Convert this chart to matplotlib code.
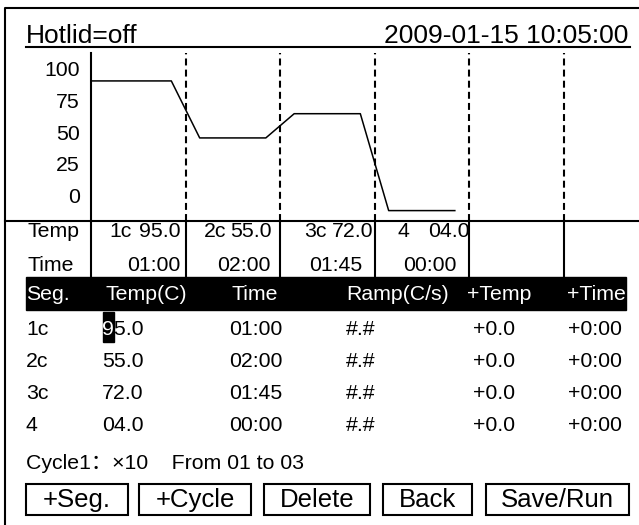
import matplotlib
matplotlib.use('Agg')
import matplotlib.pyplot as plt
from matplotlib.patches import Rectangle
from matplotlib.transforms import blended_transform_factory

plt.rcParams['font.family'] = ['Liberation Sans', 'Noto Sans CJK SC', 'DejaVu Sans']
plt.rcParams['lines.scale_dashes'] = False

# --- screen content ---
hotlid = 'Hotlid=off'
stamp = '2009-01-15 10:05:00'
seg_names = ['1c', '2c', '3c', '4']
seg_temps = [95.0, 55.0, 72.0, 4.0]
seg_times = ['01:00', '02:00', '01:45', '00:00']
seg_ramps = ['#.#', '#.#', '#.#', '#.#']
seg_dtemp = ['+0.0', '+0.0', '+0.0', '+0.0']
seg_dtime = ['+0:00', '+0:00', '+0:00', '+0:00']
y_ticks = [0, 25, 50, 75, 100]
headers = ['Seg.', 'Temp(C)', 'Time', 'Ramp(C/s)', '+Temp', '+Time']
cycle_text = 'Cycle1：×10    From 01 to 03'
buttons = ['+Seg.', '+Cycle', 'Delete', 'Back', 'Save/Run']
n_slots = 5

# --- layout (pixels) ---
W, H = 639, 525
header_x = [26, 105, 232, 346, 467, 567]
col_x = [26, 102, 229, 346, 473, 568]
row_base = [335, 367, 399, 431]
name_left = [109, 204, 304, 397]
temp_right = [181, 272, 373, 470]
time_right = [180, 270, 362, 457]
btn_x = [(26, 128), (139, 251), (264, 370), (383, 472), (486, 629)]
ramp = 0.15
fs = 15.3

fig = plt.figure(figsize=(W / 100, H / 100), dpi=100)
cv = fig.add_axes([0, 0, 1, 1])
cv.set_xlim(0, W)
cv.set_ylim(H, 0)
cv.axis('off')

# frame and header
cv.plot([5, 5, W], [H, 8, 8], color='black', lw=1.5, solid_capstyle='butt')
cv.text(26, 43, hotlid, fontsize=19, va='baseline', ha='left')
cv.text(628, 43, stamp, fontsize=19, va='baseline', ha='right')
cv.plot([26, 630], [47, 47], color='black', lw=1.5)

# temperature profile axes
pl, pr, pt, pb = 91, W, 53, 221
rect = [pl / W, (H - pb) / H, (pr - pl) / W, (pb - pt) / H]
lbl = fig.add_axes(rect, facecolor='none')
lbl.set_ylim(-20.2, 112.6)
lbl.set_yticks(y_ticks)
lbl.set_yticklabels([str(v) for v in y_ticks], fontsize=fs)
lbl.tick_params(axis='y', length=0, pad=8)
lbl.set_xticks([])
for s in ['top', 'right', 'bottom']:
    lbl.spines[s].set_visible(False)
lbl.spines['left'].set_linewidth(1.5)

ax = fig.add_axes(rect, facecolor='none')
ax.set_xlim(0, (pr - pl) / 94.5)
ax.set_ylim(-3.3, 114.6)
ax.axis('off')

xs, ys = [], []
for i, t in enumerate(seg_temps):
    if i == 0:
        xs.append(0)
    else:
        xs.append(i + ramp)
    ys.append(t)
    xs.append(i + 1 - ramp)
    ys.append(t)
ax.plot(xs, ys, color='black', lw=1.1, clip_on=False)
for i in range(1, n_slots + 1):
    ax.axvline(i, color='black', lw=1.5, linestyle=(0, (5, 3)))

# table under the plot
bt = blended_transform_factory(ax.transData, cv.transData)
cv.plot([5, W], [221, 221], color='black', lw=1.5)
for i in range(0, n_slots + 1):
    cv.plot([i, i], [221, 277], color='black', lw=1.5, transform=bt)
cv.text(28, 237, 'Temp', fontsize=fs, va='baseline')
cv.text(28, 271, 'Time', fontsize=fs, va='baseline')
for nm, t, xl, xr in zip(seg_names, seg_temps, name_left, temp_right):
    cv.text(xl, 237, nm, fontsize=fs, va='baseline', ha='left')
    cv.text(xr, 237, f'{t:04.1f}', fontsize=fs, va='baseline', ha='right')
for tm, xr in zip(seg_times, time_right):
    cv.text(xr, 271, tm, fontsize=fs, va='baseline', ha='right')

# segment list
cv.add_patch(Rectangle((26, 277), 600, 33, color='black'))
for h, x in zip(headers, header_x):
    cv.text(x, 300, h, fontsize=fs, va='baseline', color='white')
cv.add_patch(Rectangle((103, 312), 11, 30, color='black'))
for j in range(len(seg_names)):
    row = [seg_names[j], f'{seg_temps[j]:04.1f}', seg_times[j],
           seg_ramps[j], seg_dtemp[j], seg_dtime[j]]
    for val, x in zip(row, col_x):
        cv.text(x, row_base[j], val, fontsize=fs, va='baseline')
# cursor digit
cv.text(col_x[1], row_base[0], f'{seg_temps[0]:04.1f}'[0], fontsize=fs,
        va='baseline', color='white')

cv.text(26, 469, cycle_text, fontsize=fs, va='baseline')

# buttons
for b, (x0, x1) in zip(buttons, btn_x):
    cv.add_patch(Rectangle((x0, 484), x1 - x0, 31, fill=False, ec='black', lw=1.5))
    cv.text((x0 + x1) / 2, 507, b, fontsize=18.5, va='baseline', ha='center')

fig.savefig('out.png', dpi=100)
